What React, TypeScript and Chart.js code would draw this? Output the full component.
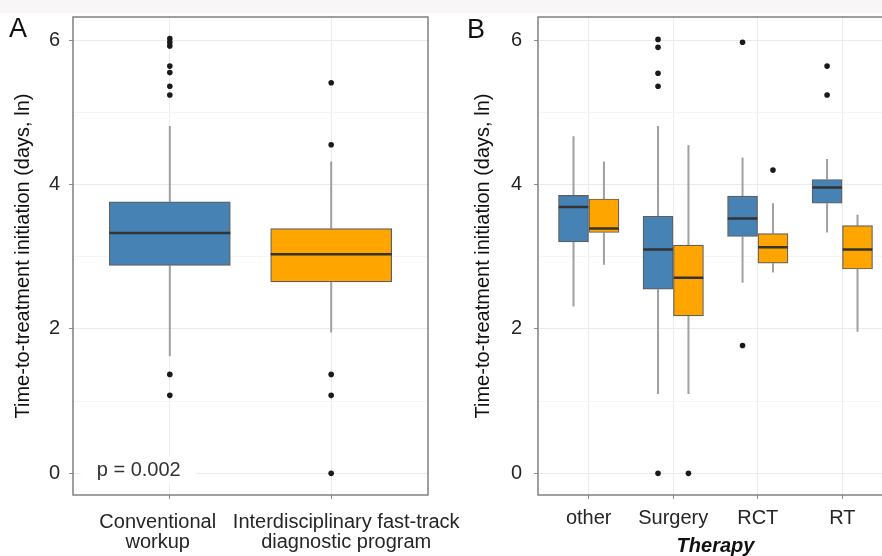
import React, { useEffect, useRef } from 'react';
import { Chart, registerables } from 'chart.js';

Chart.register(...registerables);

// ---------- data ----------
const yTickValues = [0, 1, 2, 3, 4, 5, 6];

// Panel A: program comparison
const programLabels = [['Conventional', 'workup'], ['Interdisciplinary fast-track', 'diagnostic program']];
const aLow = [1.62, 1.95];
const aQ1 = [2.88, 2.65];
const aMedian = [3.33, 3.035];
const aQ3 = [3.76, 3.39];
const aHigh = [4.81, 4.32];
const aOutliers = [
  [6.02, 5.97, 5.92, 5.64, 5.55, 5.36, 5.24, 1.37, 1.08],
  [5.41, 4.55, 1.37, 1.08, 0],
];
const pValueText = 'p = 0.002';

// Panel B: by therapy
const therapies = ['other', 'Surgery', 'RCT', 'RT'];
const convLow = [2.31, 1.1, 2.64, 3.335];
const convQ1 = [3.205, 2.55, 3.28, 3.74];
const convMedian = [3.69, 3.1, 3.53, 3.96];
const convQ3 = [3.85, 3.56, 3.84, 4.07];
const convHigh = [4.67, 4.81, 4.375, 4.355];
const convOutliers = [[], [6.01, 5.9, 5.54, 5.36, 0], [5.97, 1.77], [5.64, 5.24]];

const fastLow = [2.89, 1.1, 2.78, 1.96];
const fastQ1 = [3.335, 2.18, 2.91, 2.83];
const fastMedian = [3.39, 2.71, 3.13, 3.1];
const fastQ3 = [3.8, 3.16, 3.32, 3.43];
const fastHigh = [4.32, 4.545, 3.74, 3.58];
const fastOutliers = [[], [0], [4.2], []];

// ---------- styles ----------
const FONT = '"Liberation Sans", Arial, Helvetica, sans-serif';
const BLUE = '#4682B4';
const ORANGE = '#FFA500';
const TEXT = '#262626';
const GRID = '#ebebeb';
const GRID_MINOR = '#f5f5f5';
const TICK = '#8c8c8c';

Chart.defaults.font.family = FONT;

function boxDatasets(
  xs: number[], low: number[], q1: number[], med: number[], q3: number[], high: number[],
  outs: number[][], color: string, halfWidth: number, thickness: number
) {
  const whiskers = {
    type: 'line',
    data: xs.flatMap((x, i) => [
      { x, y: high[i] }, { x, y: q3[i] }, { x, y: null },
      { x, y: q1[i] }, { x, y: low[i] }, { x, y: null },
    ]),
    borderColor: '#a0a0a0',
    borderWidth: 2,
    pointRadius: 0,
    spanGaps: false,
    order: 3,
  };
  const boxes = {
    type: 'bar',
    data: xs.map((x, i) => ({ x, y: [q1[i], q3[i]] })),
    backgroundColor: color,
    borderColor: '#5e5e5e',
    borderWidth: 1.2,
    borderSkipped: false,
    barThickness: thickness,
    grouped: false,
    order: 2,
  };
  const medians = {
    type: 'line',
    data: xs.flatMap((x, i) => [
      { x: x - halfWidth, y: med[i] }, { x: x + halfWidth, y: med[i] }, { x, y: null },
    ]),
    borderColor: '#333333',
    borderWidth: 2.5,
    pointRadius: 0,
    spanGaps: false,
    order: 1,
  };
  const outliers = {
    type: 'line',
    showLine: false,
    data: xs.flatMap((x, i) => outs[i].map((y) => ({ x, y }))),
    pointRadius: 2.8,
    pointBackgroundColor: '#1a1a1a',
    pointBorderWidth: 0,
    order: 0,
  };
  return [whiskers, boxes, medians, outliers];
}

const framePlugin = {
  id: 'frame',
  afterDraw(chart: any) {
    const { ctx, chartArea } = chart;
    const { left, top, right, bottom } = chartArea;
    ctx.save();
    ctx.strokeStyle = '#808080';
    ctx.lineWidth = 1.5;
    ctx.strokeRect(left, top, right - left, bottom - top);
    ctx.restore();
  },
};

function yScale(width: number, tickPad: number, titlePad: number) {
  return {
    type: 'linear',
    min: -0.3,
    max: 6.32,
    afterBuildTicks: (s: any) => { s.ticks = yTickValues.map((v) => ({ value: v })); },
    ticks: {
      padding: tickPad,
      color: TEXT,
      font: { size: 20 },
      callback: (v: number) => (v % 2 === 0 ? String(v) : ''),
    },
    grid: {
      color: (c: any) => (c.tick && c.tick.value % 2 === 0 ? GRID : GRID_MINOR),
      tickColor: (c: any) => (c.tick && c.tick.value % 2 === 0 ? TICK : 'rgba(0,0,0,0)'),
      tickLength: 4,
      lineWidth: 1,
    },
    border: { display: false },
    title: {
      display: true,
      text: 'Time-to-treatment initiation (days, ln)',
      color: '#111',
      font: { size: 20, lineHeight: 1.2 },
      padding: { top: titlePad, bottom: 0 },
    },
    afterFit: (s: any) => { s.width = width; s.paddingTop = 0; s.paddingBottom = 0; },
  };
}

function buildADatasets() {
  const blue = boxDatasets([1], [aLow[0]], [aQ1[0]], [aMedian[0]], [aQ3[0]], [aHigh[0]], [aOutliers[0]], BLUE, 0.375, 121);
  const orange = boxDatasets([2], [aLow[1]], [aQ1[1]], [aMedian[1]], [aQ3[1]], [aHigh[1]], [aOutliers[1]], ORANGE, 0.375, 121);
  return blue.concat(orange);
}

function configA(): any {
  const xs = [1, 2];
  return {
    type: 'bar',
    data: { datasets: buildADatasets() },
    options: {
      responsive: false,
      animation: false,
      layout: { padding: { top: 17, right: 42, left: 0, bottom: 0 } },
      plugins: { legend: { display: false }, tooltip: { enabled: false } },
      scales: {
        x: {
          type: 'linear', position: 'bottom', weight: 0, min: 0.4, max: 2.6, offset: false,
          afterBuildTicks: (s: any) => { s.ticks = xs.map((v) => ({ value: v })); },
          ticks: { display: false },
          grid: { color: GRID, tickColor: TICK, tickLength: 4, offset: false },
          border: { display: false },
          afterFit: (s: any) => { s.height = 4; s.paddingLeft = 0; s.paddingRight = 0; },
        },
        x2: {
          type: 'linear', position: 'bottom', weight: 1, min: 0.4, max: 2.6, offset: false,
          afterBuildTicks: (s: any) => { s.ticks = [{ value: 0.925 }, { value: 2.093 }]; },
          ticks: {
            autoSkip: false, maxRotation: 0, minRotation: 0, padding: 5, color: TEXT,
            font: { size: 20, lineHeight: 1.0 },
            callback: (_v: number, i: number) => programLabels[i],
          },
          grid: { display: false },
          border: { display: false },
          afterFit: (s: any) => { s.height = 57; s.paddingLeft = 0; s.paddingRight = 0; },
        },
        y: yScale(73, 9, 11),
      },
    },
    plugins: [
      framePlugin,
      {
        id: 'annotA',
        afterDatasetsDraw(chart: any) {
          const { ctx } = chart;
          const xp = chart.scales.x.getPixelForValue(0.547);
          const yp = chart.scales.y.getPixelForValue(-0.03);
          ctx.save();
          ctx.font = `20px ${FONT}`;
          const w = ctx.measureText(pValueText).width;
          ctx.fillStyle = '#ffffff';
          ctx.fillRect(xp - 16, yp - 20, w + 32, 28);
          ctx.fillStyle = '#333333';
          ctx.textBaseline = 'alphabetic';
          ctx.fillText(pValueText, xp, yp);
          ctx.restore();
        },
        afterDraw(chart: any) {
          const { ctx } = chart;
          ctx.save();
          ctx.font = `27px ${FONT}`;
          ctx.fillStyle = '#111';
          ctx.textBaseline = 'alphabetic';
          ctx.fillText('A', 9, 37);
          ctx.restore();
        },
      },
    ],
  };
}

function configB(): any {
  const ticksX = therapies.map((_, i) => i + 1);
  const convX = ticksX.map((v) => v - 0.18);
  const fastX = ticksX.map((v) => v + 0.18);
  return {
    type: 'bar',
    data: {
      datasets: boxDatasets(convX, convLow, convQ1, convMedian, convQ3, convHigh, convOutliers, BLUE, 0.175, 30)
        .concat(boxDatasets(fastX, fastLow, fastQ1, fastMedian, fastQ3, fastHigh, fastOutliers, ORANGE, 0.175, 30)),
    },
    options: {
      responsive: false,
      animation: false,
      layout: { padding: { top: 17, right: 7, left: 0, bottom: 0 } },
      plugins: { legend: { display: false }, tooltip: { enabled: false } },
      scales: {
        x: {
          type: 'linear', position: 'bottom', min: 0.4, max: 4.6, offset: false,
          afterBuildTicks: (s: any) => { s.ticks = ticksX.map((v) => ({ value: v })); },
          ticks: {
            autoSkip: false, maxRotation: 0, minRotation: 0, padding: 7, color: TEXT,
            font: { size: 20 },
            callback: (_v: number, i: number) => therapies[i],
          },
          grid: { color: GRID, tickColor: TICK, tickLength: 4, offset: false },
          border: { display: false },
          title: {
            display: true, text: 'Therapy', color: '#111',
            font: { size: 20, style: 'italic', weight: 'bold', lineHeight: 1.0 },
            padding: { top: 0, bottom: 0 },
          },
          afterFit: (s: any) => { s.height = 61; s.paddingLeft = 0; s.paddingRight = 0; },
        },
        y: yScale(98, 12, 31),
      },
    },
    plugins: [
      framePlugin,
      {
        id: 'annotB',
        afterDraw(chart: any) {
          const { ctx } = chart;
          ctx.save();
          ctx.font = `27px ${FONT}`;
          ctx.fillStyle = '#111';
          ctx.textBaseline = 'alphabetic';
          ctx.fillText('B', 27, 38);
          ctx.restore();
        },
      },
    ],
  };
}

export default function App() {
  const refA = useRef<HTMLCanvasElement>(null);
  const refB = useRef<HTMLCanvasElement>(null);

  useEffect(() => {
    const a = new Chart(refA.current as HTMLCanvasElement, configA());
    const b = new Chart(refB.current as HTMLCanvasElement, configB());
    return () => {
      a.destroy();
      b.destroy();
    };
  }, []);

  return (
    <div style={{ position: 'fixed', left: 0, top: 0, width: 882, height: 556, overflow: 'hidden', background: '#ffffff' }}>
      <div style={{ position: 'absolute', left: 0, top: 0, width: 882, height: 13, background: '#f8f6f6' }} />
      <canvas ref={refA} width={470} height={556} style={{ position: 'absolute', left: 0, top: 0, width: 470, height: 556 }} />
      <canvas ref={refB} width={460} height={556} style={{ position: 'absolute', left: 440, top: 0, width: 460, height: 556 }} />
    </div>
  );
}
